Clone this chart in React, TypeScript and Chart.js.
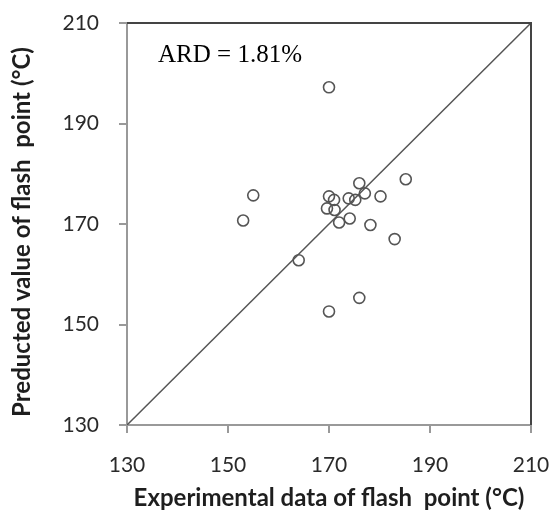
import React, { useEffect, useRef } from "react";
import { Chart, registerables } from "chart.js";

Chart.register(...registerables);

const experimental = [155, 153, 164, 170, 171, 169.6, 171.1, 172, 174.1, 173.9, 175.2, 176, 177.1, 180.2, 185.2, 178.2, 183, 176, 170, 170];
const predicted = [175.7, 170.7, 162.8, 175.5, 174.8, 173.1, 172.8, 170.3, 171.1, 175.1, 174.8, 178.1, 176.1, 175.5, 178.9, 169.8, 167, 155.3, 152.6, 197.2];
const axisTicks = [130, 150, 170, 190, 210];
const annotation = "ARD = 1.81%";
const xTitle = "Experimental data of flash  point (\u00b0C)";
const yTitle = "Preducted value of flash  point (\u00b0C)";

const TITLE_FONT = "bold 24px Lato, 'Open Sans', sans-serif";

export default function App() {
  const ref = useRef<HTMLCanvasElement>(null);
  useEffect(() => {
    document.body.style.margin = "0";
    const ctx = ref.current!;
    const boxPlugin = {
      id: "box",
      afterDraw(chart: any) {
        const { ctx, chartArea } = chart;
        ctx.save();
        ctx.strokeStyle = "#444";
        ctx.lineWidth = 2;
        ctx.beginPath();
        ctx.moveTo(chartArea.left, chartArea.top);
        ctx.lineTo(chartArea.right, chartArea.top);
        ctx.lineTo(chartArea.right, chartArea.bottom);
        ctx.stroke();
        ctx.fillStyle = "#000";
        ctx.font = "25px 'Liberation Serif', 'Times New Roman', serif";
        ctx.textBaseline = "alphabetic";
        ctx.textAlign = "left";
        ctx.fillText(annotation, 158, 62);
        // y-axis title
        ctx.translate(22, 232);
        ctx.rotate(-Math.PI / 2);
        ctx.font = TITLE_FONT;
        ctx.fillStyle = "#1e1e1e";
        ctx.textAlign = "center";
        ctx.textBaseline = "middle";
        ctx.fillText(yTitle, 0, 0);
        ctx.restore();
      },
    };
    const chart = new Chart(ctx, {
      type: "scatter",
      data: {
        datasets: [
          {
            data: experimental.map((x, i) => ({ x, y: predicted[i] })),
            pointStyle: "circle",
            pointRadius: 5.5,
            pointBorderColor: "#555",
            pointBackgroundColor: "rgba(0,0,0,0)",
            pointBorderWidth: 1.6,
            showLine: false,
          },
          {
            data: [
              { x: axisTicks[0], y: axisTicks[0] },
              { x: axisTicks[axisTicks.length - 1], y: axisTicks[axisTicks.length - 1] },
            ],
            showLine: true,
            borderColor: "#555",
            borderWidth: 1.5,
            pointRadius: 0,
          } as any,
        ],
      },
      options: {
        responsive: false,
        animation: false,
        layout: { padding: { left: 0, right: 24, top: 23, bottom: 0 } },
        plugins: { legend: { display: false }, tooltip: { enabled: false } },
        scales: {
          x: {
            type: "linear",
            min: 130,
            max: 210,
            afterFit(scale: any) {
              scale.height = 85;
              scale.paddingLeft = 0;
              scale.paddingRight = 0;
            },
            afterBuildTicks(scale: any) {
              scale.ticks = axisTicks.map((v) => ({ value: v }));
            },
            grid: { drawOnChartArea: false, tickLength: 8, color: "#999", lineWidth: 2 },
            border: { color: "#999", width: 2 },
            ticks: {
              color: "#2a2a2a",
              padding: 20,
              maxRotation: 0,
              font: { family: "Lato, 'Open Sans', sans-serif", size: 21 },
            },
            title: {
              display: true,
              text: xTitle,
              color: "#1e1e1e",
              padding: { top: 0, bottom: 0 },
              font: { family: "Lato, 'Open Sans', sans-serif", size: 24, weight: "bold", lineHeight: 1 },
            },
          },
          y: {
            type: "linear",
            min: 130,
            max: 210,
            afterFit(scale: any) {
              scale.width = 127;
              scale.paddingTop = 0;
              scale.paddingBottom = 0;
            },
            afterBuildTicks(scale: any) {
              scale.ticks = axisTicks.map((v) => ({ value: v }));
            },
            grid: { drawOnChartArea: false, tickLength: 8, color: "#999", lineWidth: 2 },
            border: { color: "#999", width: 2 },
            ticks: {
              color: "#2a2a2a",
              padding: 20,
              font: { family: "Lato, 'Open Sans', sans-serif", size: 21 },
            },
          },
        },
      },
      plugins: [boxPlugin],
    } as any);
    return () => chart.destroy();
  }, []);
  return (
    <div style={{ width: 555, height: 510 }}>
      <canvas ref={ref} width={555} height={510} style={{ display: "block" }} />
    </div>
  );
}
